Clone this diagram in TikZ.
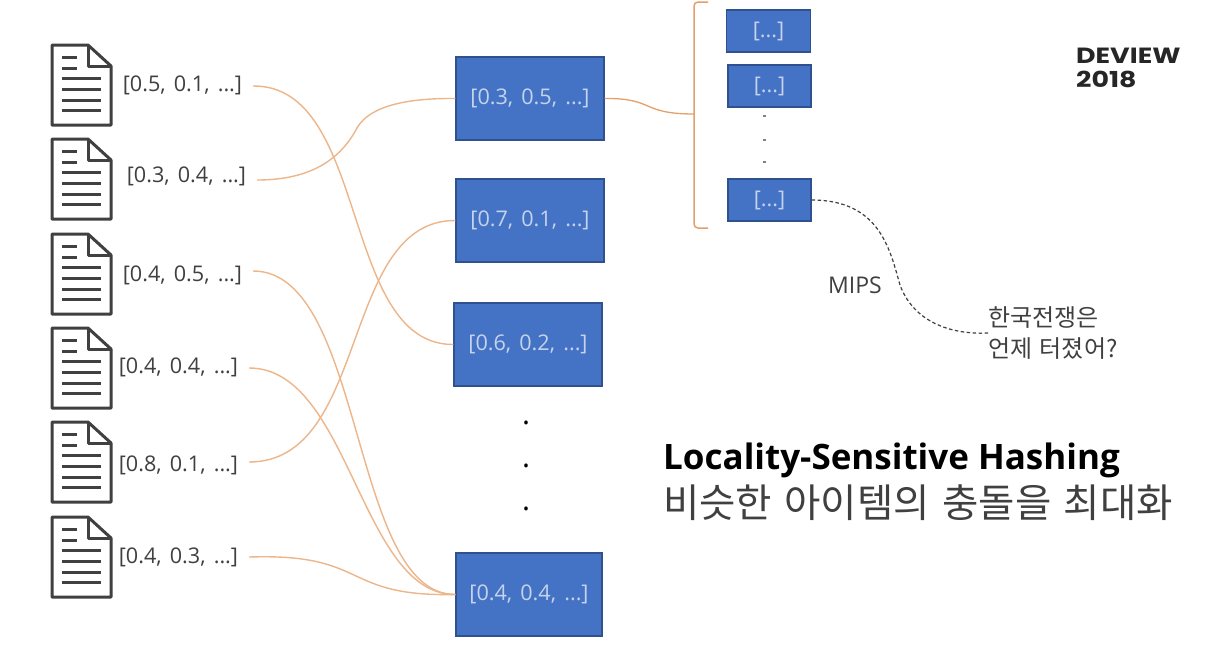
\documentclass[tikz,border=0pt]{standalone}
\usepackage{fontspec}
\setmainfont{Open Sans}
\newfontfamily\vecfont[WordSpace=1.45]{Open Sans}
\newfontfamily\krfont{Noto Sans CJK KR}
\newfontfamily\krwide[WordSpace=1.4]{Noto Sans CJK KR}
\newfontfamily\logofont[FakeStretch=1.22]{Poppins}
\definecolor{boxfill}{HTML}{4472C4}
\definecolor{boxline}{HTML}{2F528F}
\definecolor{boxtext}{HTML}{C5D3EC}
\definecolor{link}{HTML}{EDB68A}
\definecolor{brace}{HTML}{E3A06C}
\definecolor{ink}{HTML}{404040}
\tikzset{
  hash/.style={draw=boxline,line width=1.2pt,fill=boxfill,text=boxtext,font=\vecfont\fontsize{21.6}{21.6}\selectfont,minimum width=148pt,minimum height=83pt,inner sep=0pt},
  small/.style={draw=boxline,line width=1.2pt,fill=boxfill,text=boxtext,font=\vecfont\fontsize{21.6}{21.6}\selectfont,minimum width=84pt,minimum height=42pt,inner sep=0pt},
  vec/.style={text=ink,font=\vecfont\fontsize{21.6}{21.6}\selectfont,inner xsep=0pt,inner ysep=2pt,outer xsep=11pt,anchor=center},
  conn/.style={draw=link,line width=1.4pt},
  docline/.style={draw=ink,line width=3pt},
  pics/docicon/.style={code={
    \draw[draw=ink,line width=3pt,line join=round] (0,0) -- (36,0) -- (59,21) -- (59,80) -- (0,80) -- cycle;
    \draw[draw=ink,line width=3pt,line join=round] (36,0) -- (36,21) -- (59,21);
    \draw[docline] (10,12) -- (25,12);
    \draw[docline] (10,23) -- (25,23);
    \foreach \yy in {33,44,55,65} {\draw[docline] (10,\yy) -- (49,\yy);}
  }}
}
\begin{document}
\begin{tikzpicture}[x=1pt,y=-1pt]
\useasboundingbox (0,0) rectangle (1224,664);
\fill[white] (0,0) rectangle (1224,664);
\foreach \dy in {45,139,234,328,422,517} {\pic at (52,\dy) {docicon};}
\node[vec] (v1) at (182.5,85) {[0.5, 0.1, ...]};
\node[vec] (v2) at (186.5,176) {[0.3, 0.4, ...]};
\node[vec] (v3) at (182.5,275) {[0.4, 0.5, ...]};
\node[vec] (v4) at (178.5,367) {[0.4, 0.4, ...]};
\node[vec] (v5) at (178.5,465) {[0.8, 0.1, ...]};
\node[vec] (v6) at (178.5,557) {[0.4, 0.3, ...]};
\node[hash] (h1) at (530,98.5) {\raisebox{-2.5pt}{[0.3, 0.5, ...]}};
\node[hash] (h2) at (530,220.5) {\raisebox{-2.5pt}{[0.7, 0.1, ...]}};
\node[hash] (h3) at (528,344.5) {\raisebox{-2.5pt}{[0.6, 0.2, ...]}};
\node[hash,minimum width=146pt] (h4) at (529,594.5) {\raisebox{-2.5pt}{[0.4, 0.4, ...]}};
\node[small] (s1) at (768.5,31) {\raisebox{-2.5pt}{[...]}};
\node[small,minimum width=83pt] (s2) at (769.5,86) {\raisebox{-2.5pt}{[...]}};
\node[small,minimum width=83pt] (s3) at (769.5,200) {\raisebox{-2.5pt}{[...]}};
\coordinate (bt) at (708,2);
\coordinate (bb) at (708,228);
\coordinate (bm) at (694,114);
\draw[draw=brace,line width=1.5pt] (bt) -- (698,2) to[out=180,in=90] (694,6) -- (694,224) to[out=-90,in=180] (698,228) -- (bb);
\draw[conn] ([yshift=-1pt]v1.east) .. controls (370,85) and (340,345) .. (h3.west);
\draw[conn] ([yshift=-4pt]v2.east) .. controls (310,180) and (340,160) .. (357,128) .. controls (370,105) and (410,98) .. (h1.west);
\draw[conn] ([yshift=4pt]v3.east) .. controls (365,271) and (350,595) .. (h4.west);
\draw[conn] ([yshift=-1pt]v4.east) .. controls (350,368) and (360,595) .. (h4.west);
\draw[conn] ([yshift=3pt]v5.east) .. controls (370,462) and (340,220) .. (h2.west);
\draw[conn] (v6.east) .. controls (370,553) and (340,597) .. (h4.west);
\draw[draw=brace,line width=1.3pt] (h1.east) .. controls (655,98) and (640,114) .. (bm);
\node[text=black,font=\fontsize{30}{30}\selectfont,inner sep=0pt] (d1) at (526,423) {.};
\node[text=black,font=\fontsize{30}{30}\selectfont,inner sep=0pt] (d2) at (526,466) {.};
\node[text=black,font=\fontsize{30}{30}\selectfont,inner sep=0pt] (d3) at (526,509) {.};
\node[fill=gray,inner sep=0pt,minimum width=3pt,minimum height=1.2pt] (e1) at (764,116) {};
\node[fill=gray,inner sep=0pt,minimum width=3pt,minimum height=1.2pt] (e2) at (764,140) {};
\node[fill=gray,inner sep=0pt,minimum width=3pt,minimum height=1.2pt] (e3) at (764,162) {};
\node[text=ink,font=\fontsize{23}{23}\selectfont,inner sep=0pt] (mips) at (855,285) {MIPS};
\node[text=ink,font=\krfont\fontsize{24}{31}\selectfont,align=left,inner sep=0pt,anchor=west] (q) at (988,333) {한국전쟁은\\언제 터졌어?};
\draw[draw=ink,line width=1.2pt,dash pattern=on 3.5pt off 2.5pt] (s3.east) .. controls (880,200) and (890,250) .. (900,285) .. controls (912,318) and (945,335) .. (q.west);
\node[anchor=west,inner sep=0pt,text=black,font=\bfseries\fontsize{35}{35}\selectfont] (t1) at (663,460) {Locality-Sensitive Hashing};
\node[anchor=west,inner sep=0pt,text=ink,font=\krwide\fontsize{39.5}{39.5}\selectfont] (t2) at (663,503) {비슷한 아이템의 충돌을 최대화};
\node[anchor=west,inner sep=0pt,text=black!85,font=\logofont\bfseries\fontsize{22}{24}\selectfont,align=left] (logo) at (1076,68) {DEVIEW\\2018};
\end{tikzpicture}
\end{document}
